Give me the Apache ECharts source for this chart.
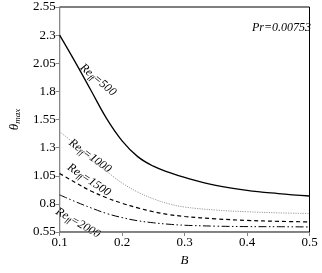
<!DOCTYPE html>
<html><head><meta charset="utf-8">
<script src="https://cdn.jsdelivr.net/npm/echarts@6/dist/echarts.min.js"></script>
<style>html,body{margin:0;padding:0;background:#fff}#c{width:322px;height:273px}</style>
</head><body><div id="c"></div>
<script>
const B = [0.1, 0.125, 0.15, 0.175, 0.2, 0.225, 0.25, 0.275, 0.3, 0.35, 0.4, 0.45, 0.5];
const re500  = [2.30, 2.06, 1.81, 1.56, 1.36, 1.22, 1.135, 1.08, 1.035, 0.965, 0.92, 0.892, 0.87];
const re1000 = [1.44, 1.33, 1.20, 1.09, 0.985, 0.905, 0.845, 0.80, 0.772, 0.745, 0.73, 0.72, 0.715];
const re1500 = [1.07, 0.99, 0.915, 0.855, 0.805, 0.765, 0.73, 0.705, 0.688, 0.667, 0.653, 0.645, 0.64];
const re2000 = [0.88, 0.82, 0.765, 0.715, 0.678, 0.65, 0.632, 0.619, 0.61, 0.602, 0.598, 0.597, 0.595];
const xTicks = [0.1, 0.2, 0.3, 0.4, 0.5];
const yTicks = [0.55, 0.8, 1.05, 1.3, 1.55, 1.8, 2.05, 2.3, 2.55];
const labels = ['500', '1000', '1500', '2000'];

const F = '"Liberation Serif", "Times New Roman", serif';
const pair = arr => B.map((b, i) => [b, arr[i]]);
const chart = echarts.init(document.getElementById('c'), null, {renderer: 'canvas'});
const axisGray = '#868686';
function reLabel(txt, x, y, rot) {
  return {
    type: 'text', x: x, y: y, rotation: rot * Math.PI / 180,
    style: {
      text: '{a|Re}{s|ff}{a|=' + txt + '}',
      rich: {
        a: {fontFamily: F, fontStyle: 'italic', fontSize: 12, fill: '#000'},
        s: {fontFamily: F, fontStyle: 'italic', fontSize: 8, fill: '#000', padding: [6, 0, 0, 0]}
      },
      align: 'center', verticalAlign: 'middle'
    }
  };
}
chart.setOption({
  animation: false,
  grid: {left: 48.5, right: 12.5, top: 7, bottom: 41, show: true, borderColor: '#000', borderWidth: 1, backgroundColor: 'transparent'},
  xAxis: {
    type: 'value', min: xTicks[0], max: xTicks[xTicks.length - 1], interval: 0.1,
    name: 'B', nameLocation: 'middle', nameGap: 20,
    nameTextStyle: {fontFamily: F, fontStyle: 'italic', fontSize: 13, color: '#000'},
    axisLine: {show: true, lineStyle: {color: axisGray, width: 1}},
    axisTick: {show: true, inside: false, length: 4, lineStyle: {color: axisGray}},
    axisLabel: {fontFamily: F, fontSize: 13, color: '#000', margin: 4,
      formatter: v => String(+v.toFixed(2))},
    splitLine: {show: false}
  },
  yAxis: {
    type: 'value', min: yTicks[0], max: yTicks[yTicks.length - 1], interval: 0.25,
    name: '{t|θ}{m|max}', nameLocation: 'middle', nameGap: 36, nameRotate: 90,
    nameTextStyle: {rich: {
      t: {fontFamily: F, fontStyle: 'italic', fontSize: 13, color: '#000'},
      m: {fontFamily: F, fontStyle: 'italic', fontSize: 9, color: '#000', padding: [6, 0, 0, 0]}
    }},
    axisLine: {show: true, lineStyle: {color: axisGray, width: 1}},
    axisTick: {show: true, inside: false, length: 4, lineStyle: {color: axisGray}},
    axisLabel: {fontFamily: F, fontSize: 13, color: '#000', margin: 4,
      formatter: v => String(+v.toFixed(2))},
    splitLine: {show: false}
  },
  series: [
    {type: 'line', data: pair(re500), smooth: 0.4, symbol: 'none',
      lineStyle: {color: '#000', width: 1.3, type: 'solid'}},
    {type: 'line', data: pair(re1000), smooth: 0.4, symbol: 'none',
      lineStyle: {color: '#999', width: 1, type: [1.2, 1.2]}},
    {type: 'line', data: pair(re1500), smooth: 0.4, symbol: 'none',
      lineStyle: {color: '#000', width: 1.2, type: [4, 3]}},
    {type: 'line', data: pair(re2000), smooth: 0.4, symbol: 'none',
      lineStyle: {color: '#000', width: 1, type: [8, 2.5, 1.5, 2.5, 1.5, 2.5]}}
  ],
  graphic: [
    {type: 'text', right: 11, top: 22, style: {text: 'Pr=0.00753', fontFamily: F, fontStyle: 'italic', fontSize: 12, fill: '#000'}},
    reLabel(labels[0], 98, 80, -40),
    reLabel(labels[1], 90, 156, -36),
    reLabel(labels[2], 89, 180, -34),
    reLabel(labels[3], 78, 223, -30)
  ]
});
</script></body></html>
